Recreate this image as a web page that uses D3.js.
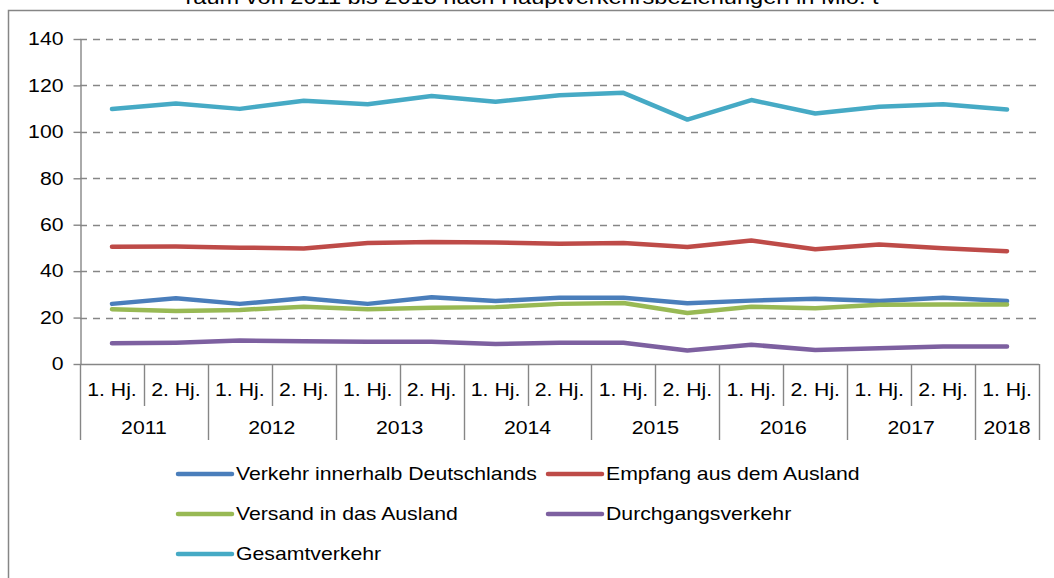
<!DOCTYPE html>
<html>
<head>
<meta charset="utf-8">
<script src="https://cdn.jsdelivr.net/npm/d3@7"></script>
<style>
  body { margin: 0; background: #fff; }
  svg { display: block; font-family: "Liberation Sans", Arial, sans-serif; }
</style>
</head>
<body>
<div id="chart"></div>
<script>
// ---- data -----------------------------------------------------------------
const halfYears = ['1. Hj.', '2. Hj.', '1. Hj.', '2. Hj.', '1. Hj.', '2. Hj.', '1. Hj.', '2. Hj.',
                   '1. Hj.', '2. Hj.', '1. Hj.', '2. Hj.', '1. Hj.', '2. Hj.', '1. Hj.'];
const years = ['2011', '2012', '2013', '2014', '2015', '2016', '2017', '2018'];
const yTicks = [0, 20, 40, 60, 80, 100, 120, 140];

const seriesNames = ['Verkehr innerhalb Deutschlands', 'Empfang aus dem Ausland',
                     'Versand in das Ausland', 'Durchgangsverkehr', 'Gesamtverkehr'];
const inland     = [25.9, 28.3, 25.9, 28.3, 25.9, 28.8, 27.1, 28.5, 28.5, 26.2, 27.3, 28.1, 27.1, 28.5, 27.1];
const empfang    = [50.5, 50.6, 50.1, 49.8, 52.1, 52.6, 52.3, 51.8, 52.1, 50.4, 53.2, 49.4, 51.5, 49.9, 48.6];
const versand    = [23.6, 22.8, 23.3, 24.7, 23.6, 24.2, 24.5, 25.9, 26.3, 22.0, 24.7, 24.0, 25.5, 25.6, 25.6];
const durchgang  = [8.9, 9.2, 10.1, 9.8, 9.6, 9.6, 8.6, 9.2, 9.2, 5.8, 8.3, 6.0, 6.8, 7.5, 7.5];
const gesamt     = [109.8, 112.2, 109.9, 113.4, 111.9, 115.4, 113.0, 115.8, 116.8, 105.3, 113.7, 107.9, 110.8, 111.9, 109.6];
const seriesColors = ['#4a7ebb', '#be4b48', '#98b954', '#7d60a0', '#46aac5'];

// ---- layout ---------------------------------------------------------------
const totalWidth = 1054, totalHeight = 578;
const plot = { left: 80, right: 1039, top: 39, bottom: 364 };
const sx = 1.18; // text in the reference is stretched horizontally
const fontSize = 18;
const grey = '#868686';

const svg = d3.select('#chart').append('svg')
  .attr('width', totalWidth)
  .attr('height', totalHeight);

// frame + clipped title (the reference only shows its lower part)
svg.append('path')
  .attr('d', 'M8.5,' + totalHeight + ' V10.5 H' + totalWidth)
  .attr('fill', 'none')
  .attr('stroke', grey)
  .attr('stroke-width', 1.5);

function stretched(sel, x, y) {
  return sel.attr('transform', 'translate(' + x + ',' + y + ') scale(' + sx + ',1)');
}

stretched(svg.append('text'), 532, 4)
  .attr('text-anchor', 'middle')
  .attr('font-size', 20)
  .attr('fill', '#000')
  .text('raum von 2011 bis 2018 nach Hauptverkehrsbeziehungen in Mio. t');

// ---- scales ---------------------------------------------------------------
const idx = d3.range(halfYears.length);
const xScale = d3.scaleBand()
  .domain(idx)
  .range([plot.left, plot.right])
  .padding(0);
const yScale = d3.scaleLinear()
  .domain([0, 140])
  .range([plot.bottom, plot.top]);

// ---- grid -----------------------------------------------------------------
svg.append('g')
  .selectAll('line')
  .data(yTicks.filter(d => d > 0))
  .enter()
  .append('line')
    .attr('x1', plot.left)
    .attr('x2', plot.right)
    .attr('y1', d => Math.round(yScale(d)) + 0.5)
    .attr('y2', d => Math.round(yScale(d)) + 0.5)
    .attr('stroke', grey)
    .attr('stroke-width', 1.4)
    .attr('stroke-dasharray', '7,6');

// ---- y axis ---------------------------------------------------------------
const yAxis = d3.axisLeft(yScale)
  .tickValues(yTicks)
  .tickSize(7)
  .tickSizeOuter(0)
  .tickPadding(10);
const yAxisView = svg.append('g')
  .attr('transform', 'translate(' + (plot.left + 0.5) + ',0)')
  .call(yAxis);
yAxisView.selectAll('path, line').attr('stroke', grey).attr('stroke-width', 1.4);
yAxisView.selectAll('text')
  .attr('font-size', fontSize)
  .attr('font-family', '"Liberation Sans", Arial, sans-serif')
  .attr('fill', '#000')
  .each(function() {
    const t = d3.select(this);
    t.attr('transform', 'translate(-17,0) scale(' + sx + ',1)').attr('x', null);
  });

// ---- x axis (two level) ---------------------------------------------------
const xAxisGroup = svg.append('g');
xAxisGroup.append('line')
  .attr('x1', plot.left).attr('x2', plot.right)
  .attr('y1', plot.bottom + 0.5).attr('y2', plot.bottom + 0.5)
  .attr('stroke', grey).attr('stroke-width', 1.4);

// separators: short between half years, long at year boundaries
const bounds = d3.range(halfYears.length + 1);
xAxisGroup.selectAll('line.sep')
  .data(bounds)
  .enter()
  .append('line')
    .attr('class', 'sep')
    .attr('x1', d => Math.round(d < halfYears.length ? xScale(d) : plot.right) + 0.5)
    .attr('x2', d => Math.round(d < halfYears.length ? xScale(d) : plot.right) + 0.5)
    .attr('y1', plot.bottom)
    .attr('y2', d => (d % 2 === 0 || d === halfYears.length) ? 440 : 406)
    .attr('stroke', grey)
    .attr('stroke-width', 1.4);

xAxisGroup.selectAll('text.hj')
  .data(idx)
  .enter()
  .append('text')
    .attr('class', 'hj')
    .attr('text-anchor', 'middle')
    .attr('font-size', fontSize)
    .attr('fill', '#000')
    .text(d => halfYears[d])
    .each(function(d) {
      stretched(d3.select(this), xScale(d) + xScale.bandwidth() / 2, 396);
    });

xAxisGroup.selectAll('text.year')
  .data(years)
  .enter()
  .append('text')
    .attr('class', 'year')
    .attr('text-anchor', 'middle')
    .attr('font-size', fontSize)
    .attr('fill', '#000')
    .text(d => d)
    .each(function(d, i) {
      const first = i * 2;
      const last = Math.min(first + 1, halfYears.length - 1);
      const cx = (xScale(first) + xScale(last) + xScale.bandwidth()) / 2;
      stretched(d3.select(this), cx, 434);
    });

// ---- lines ----------------------------------------------------------------
const allSeries = [inland, empfang, versand, durchgang, gesamt];
const line = d3.line()
  .x((d, i) => xScale(i) + xScale.bandwidth() / 2)
  .y(d => yScale(d));

svg.append('g')
  .selectAll('path')
  .data(allSeries)
  .enter()
  .append('path')
    .attr('d', d => line(d))
    .attr('fill', 'none')
    .attr('stroke', (d, i) => seriesColors[i])
    .attr('stroke-width', 4.5)
    .attr('stroke-linecap', 'round')
    .attr('stroke-linejoin', 'round');

// ---- legend ---------------------------------------------------------------
const legendPos = [
  { x: 178, y: 474 }, { x: 548, y: 474 },
  { x: 178, y: 514 }, { x: 548, y: 514 },
  { x: 178, y: 554 }
];
const legend = svg.append('g')
  .selectAll('g')
  .data(seriesNames)
  .enter()
  .append('g')
    .attr('transform', (d, i) => 'translate(' + legendPos[i].x + ',' + legendPos[i].y + ')');
legend.append('line')
  .attr('x1', 0).attr('x2', 54)
  .attr('y1', 0).attr('y2', 0)
  .attr('stroke', (d, i) => seriesColors[i])
  .attr('stroke-width', 4.5)
  .attr('stroke-linecap', 'round');
legend.append('text')
  .attr('font-size', fontSize)
  .attr('fill', '#000')
  .attr('transform', 'translate(58,6) scale(' + sx + ',1)')
  .text(d => d);
</script>
</body>
</html>
